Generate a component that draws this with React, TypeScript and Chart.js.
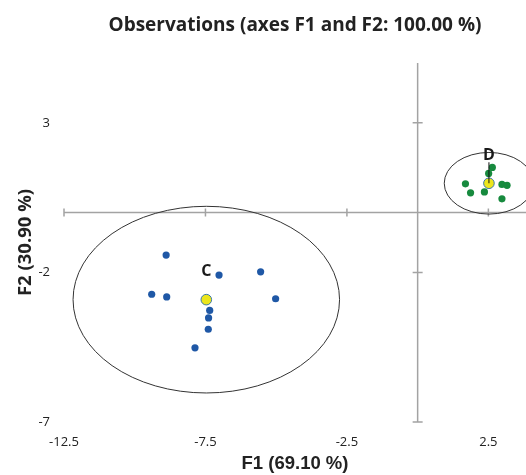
import React, { useEffect, useRef } from "react";
import { Chart, registerables } from "chart.js";

Chart.register(...registerables);

// ---- data ----
const X_TICKS = [-12.5, -7.5, -2.5, 2.5];
const Y_TICKS = [-7, -2, 3];

const C_X = [-8.89, -7.02, -5.55, -9.4, -8.87, -5.02, -7.35, -7.39, -7.4, -7.87];
const C_Y = [-1.42, -2.09, -1.98, -2.73, -2.82, -2.88, -3.27, -3.52, -3.9, -4.52];
const D_X = [2.64, 2.51, 1.69, 1.87, 2.36, 2.98, 3.16, 2.98];
const D_Y = [1.51, 1.31, 0.96, 0.66, 0.69, 0.94, 0.91, 0.46];

const CENTROID_NAMES = ["C", "D"];
const CENTROID_X = [-7.47, 2.52];
const CENTROID_Y = [-2.91, 0.98];
const ELLIPSE_RX = [4.71, 1.58];
const ELLIPSE_RY = [3.12, 1.03];

const X_MIN = -12.5;
const X_MAX = 3.83;
const Y_MIN = -7;
const Y_MAX = 5;

const toPts = (xs: number[], ys: number[]) => xs.map((x, i) => ({ x, y: ys[i] }));

const decorPlugin = {
  id: "decor",
  beforeDatasetsDraw(chart: any) {
    const { ctx, chartArea, scales } = chart;
    const xs = scales.x;
    const ys = scales.y;
    const x0 = xs.getPixelForValue(0);
    const y0 = ys.getPixelForValue(0);
    ctx.save();
    ctx.strokeStyle = "#a3a3a3";
    ctx.lineWidth = 1.5;
    ctx.beginPath();
    ctx.moveTo(chartArea.left, y0);
    ctx.lineTo(chartArea.right, y0);
    ctx.moveTo(x0, chartArea.top);
    ctx.lineTo(x0, chartArea.bottom);
    X_TICKS.forEach((v) => {
      const p = xs.getPixelForValue(v);
      ctx.moveTo(p, y0 - 4);
      ctx.lineTo(p, y0 + 4);
    });
    Y_TICKS.forEach((v) => {
      const p = ys.getPixelForValue(v);
      ctx.moveTo(x0 - 5, p);
      ctx.lineTo(x0 + 5, p);
    });
    ctx.stroke();

    // confidence ellipses
    ctx.strokeStyle = "#333";
    ctx.lineWidth = 1;
    CENTROID_X.forEach((cx, i) => {
      const cy = CENTROID_Y[i];
      const px = xs.getPixelForValue(cx);
      const py = ys.getPixelForValue(cy);
      const rx = Math.abs(xs.getPixelForValue(cx + ELLIPSE_RX[i]) - px);
      const ry = Math.abs(ys.getPixelForValue(cy + ELLIPSE_RY[i]) - py);
      ctx.beginPath();
      ctx.ellipse(px, py, rx, ry, 0, 0, Math.PI * 2);
      ctx.stroke();
    });
    ctx.restore();
  },
  afterDatasetsDraw(chart: any) {
    const { ctx, scales } = chart;
    const xs = scales.x;
    const ys = scales.y;
    ctx.save();
    ctx.font = "bold 16px 'Open Sans'";
    ctx.fillStyle = "#1a1a1a";
    ctx.textAlign = "center";
    ctx.textBaseline = "middle";
    CENTROID_NAMES.forEach((name, i) => {
      const px = xs.getPixelForValue(CENTROID_X[i]);
      const py = ys.getPixelForValue(CENTROID_Y[i]);
      const ly = py - 28;
      if (name === "D") {
        ctx.strokeStyle = "#111";
        ctx.lineWidth = 1;
        ctx.beginPath();
        ctx.moveTo(px, ly + 7);
        ctx.lineTo(px, py);
        ctx.stroke();
      }
      ctx.fillText(name, px, ly);
    });
    ctx.restore();
  },
};

export default function App() {
  const ref = useRef<HTMLCanvasElement | null>(null);

  useEffect(() => {
    if (!ref.current) return;
    const tickFont = { family: "'Open Sans'", size: 13 };
    const chart = new Chart(ref.current, {
      type: "scatter",
      data: {
        datasets: [
          {
            label: "C",
            data: toPts(C_X, C_Y),
            backgroundColor: "#1f58a6",
            borderWidth: 0,
            pointRadius: 3.6,
          },
          {
            label: "D",
            data: toPts(D_X, D_Y),
            backgroundColor: "#178a3e",
            borderWidth: 0,
            pointRadius: 3.6,
          },
          {
            label: "Centroids",
            data: toPts(CENTROID_X, CENTROID_Y),
            backgroundColor: "#ece61c",
            borderColor: "#3a78a8",
            borderWidth: 1,
            pointRadius: 5.3,
          },
        ],
      },
      options: {
        animation: false,
        responsive: false,
        devicePixelRatio: 1,
        layout: { padding: 0, autoPadding: false },
        plugins: {
          legend: { display: false },
          tooltip: { enabled: false },
          title: {
            display: true,
            text: "Observations (axes F1 and F2: 100.00 %)",
            fullSize: false,
            color: "#222",
            font: { family: "'Open Sans'", size: 19, weight: "bold" },
            padding: { top: 14.6, bottom: 25.6 },
          },
        },
        scales: {
          x: {
            type: "linear",
            position: "bottom",
            min: X_MIN,
            max: X_MAX,
            afterBuildTicks: (s: any) => {
              s.ticks = X_TICKS.map((v) => ({ value: v }));
            },
            afterFit: (s: any) => {
              s.height = 53;
              s.paddingLeft = 0;
              s.paddingRight = 0;
            },
            grid: { display: false, drawTicks: false },
            border: { display: false },
            ticks: {
              font: tickFont,
              color: "#222",
              padding: 12,
              autoSkip: false,
              maxRotation: 0,
              callback: (v: any) => String(v),
            },
            title: {
              display: true,
              text: "F1 (69.10 %)",
              color: "#222",
              font: { family: "'Liberation Sans'", size: 18.5, weight: "bold" },
              padding: { top: 0, bottom: 0 },
            },
          },
          y: {
            type: "linear",
            position: "left",
            min: Y_MIN,
            max: Y_MAX,
            afterBuildTicks: (s: any) => {
              s.ticks = Y_TICKS.map((v) => ({ value: v }));
            },
            afterFit: (s: any) => {
              s.width = 64;
              s.paddingTop = 0;
              s.paddingBottom = 0;
            },
            grid: { display: false, drawTicks: false },
            border: { display: false },
            ticks: {
              font: tickFont,
              color: "#222",
              padding: 14,
              autoSkip: false,
              callback: (v: any) => String(v),
            },
            title: {
              display: true,
              text: "F2 (30.90 %)",
              color: "#222",
              font: { family: "'Open Sans'", size: 18.5, weight: "bold" },
              padding: { top: 15, bottom: 0 },
            },
          },
        },
      },
      plugins: [decorPlugin],
    } as any);
    return () => chart.destroy();
  }, []);

  return (
    <div style={{ position: "fixed", left: 0, top: 0, width: 526, height: 475, background: "#fff" }}>
      <canvas ref={ref} width={526} height={475} style={{ display: "block" }} />
    </div>
  );
}
